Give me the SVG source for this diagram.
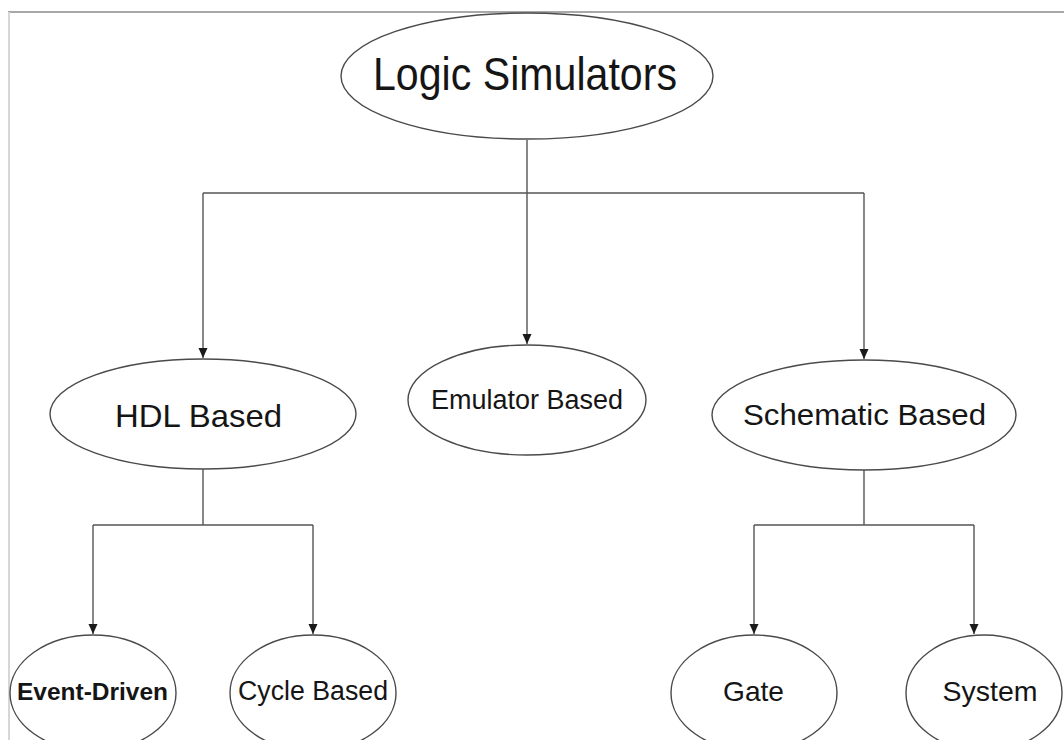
<svg xmlns="http://www.w3.org/2000/svg" width="1064" height="740" viewBox="0 0 1064 740">
  <style>
    .node ellipse { fill: #ffffff; stroke: #4a4a4a; stroke-width: 1.4; }
    .node text { font-family: "Liberation Sans", Arial, sans-serif; fill: #151515; text-anchor: middle; }
    .edge { fill: none; stroke: #555555; stroke-width: 1.4; }
    .frame-top { stroke: #a8a8a8; stroke-width: 2.2; }
    .frame-left { stroke: #d6d6d6; stroke-width: 2; }
  </style>
  <defs>
    <marker id="arrow" markerUnits="userSpaceOnUse" markerWidth="10" markerHeight="10" refX="10" refY="4.5" orient="auto">
      <path d="M0,0 L10,4.5 L0,9 Z" fill="#1a1a1a"/>
    </marker>
  </defs>

  <rect x="0" y="0" width="1064" height="740" fill="#ffffff"/>

  <!-- page frame -->
  <line class="frame-top" x1="8" y1="12" x2="1064" y2="12"/>
  <line class="frame-left" x1="9" y1="12" x2="9" y2="740"/>

  <!-- connectors -->
  <g id="connectors">
    <path class="edge" d="M527,140 V344" marker-end="url(#arrow)"/>
    <path class="edge" d="M203,193 H864"/>
    <path class="edge" d="M203,193 V358" marker-end="url(#arrow)"/>
    <path class="edge" d="M864,193 V359" marker-end="url(#arrow)"/>
    <path class="edge" d="M203,469 V525"/>
    <path class="edge" d="M93,525 H313"/>
    <path class="edge" d="M93,525 V634" marker-end="url(#arrow)"/>
    <path class="edge" d="M313,525 V634" marker-end="url(#arrow)"/>
    <path class="edge" d="M864,470 V525"/>
    <path class="edge" d="M754,525 H974"/>
    <path class="edge" d="M754,525 V634" marker-end="url(#arrow)"/>
    <path class="edge" d="M974,525 V634" marker-end="url(#arrow)"/>
  </g>

  <!-- nodes -->
  <g id="logic-simulators" class="node">
    <ellipse cx="527" cy="76" rx="186" ry="63"/>
    <text x="525" y="90" font-size="46" textLength="304" lengthAdjust="spacingAndGlyphs">Logic Simulators</text>
  </g>
  <g id="hdl-based" class="node">
    <ellipse cx="203" cy="414" rx="153" ry="55"/>
    <text x="198.5" y="427" font-size="32" textLength="167" lengthAdjust="spacingAndGlyphs">HDL Based</text>
  </g>
  <g id="emulator-based" class="node">
    <ellipse cx="527" cy="400" rx="119" ry="55"/>
    <text x="527" y="409" font-size="27" textLength="192" lengthAdjust="spacingAndGlyphs">Emulator Based</text>
  </g>
  <g id="schematic-based" class="node">
    <ellipse cx="864" cy="415" rx="152" ry="55"/>
    <text x="864.5" y="425" font-size="30" textLength="243" lengthAdjust="spacingAndGlyphs">Schematic Based</text>
  </g>
  <g id="event-driven" class="node">
    <ellipse cx="93" cy="693" rx="83" ry="58"/>
    <text x="92.5" y="700" font-size="24" font-weight="bold" textLength="151" lengthAdjust="spacingAndGlyphs">Event-Driven</text>
  </g>
  <g id="cycle-based" class="node">
    <ellipse cx="313" cy="693" rx="83" ry="58"/>
    <text x="313" y="700" font-size="27" textLength="150" lengthAdjust="spacingAndGlyphs">Cycle Based</text>
  </g>
  <g id="gate" class="node">
    <ellipse cx="754" cy="693" rx="83" ry="58"/>
    <text x="753.5" y="701" font-size="28" textLength="61" lengthAdjust="spacingAndGlyphs">Gate</text>
  </g>
  <g id="system" class="node">
    <ellipse cx="984" cy="693" rx="78" ry="58"/>
    <text x="990" y="701" font-size="28" textLength="95" lengthAdjust="spacingAndGlyphs">System</text>
  </g>
</svg>
